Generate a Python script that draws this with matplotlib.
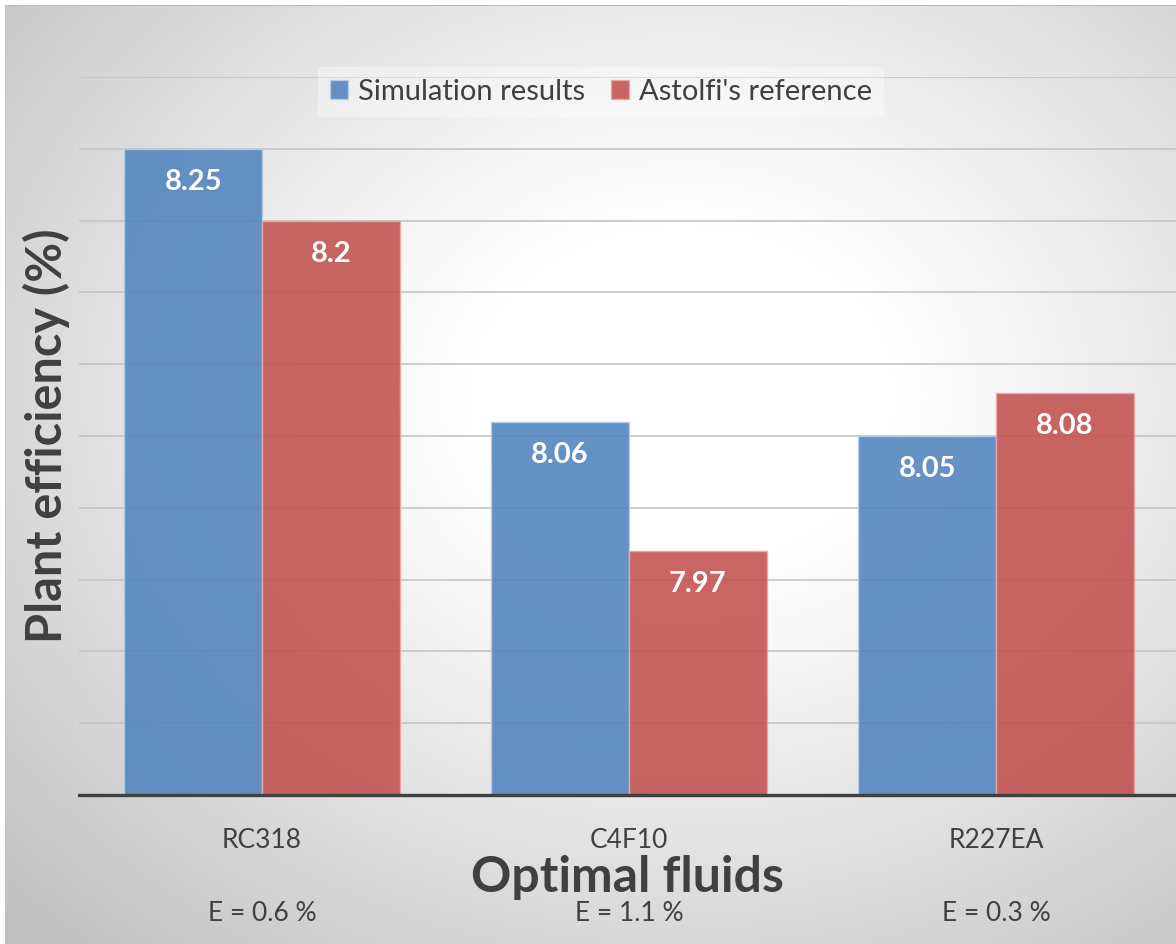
import matplotlib.pyplot as plt
import numpy as np

# data
fluids = ['RC318', 'C4F10', 'R227EA']
errors = ['E = 0.6 %', 'E = 1.1 %', 'E = 0.3 %']
simulation = [8.25, 8.06, 8.05]
astolfi = [8.20, 7.97, 8.08]
series_names = ['Simulation results', "Astolfi's reference"]

plt.rcParams['font.family'] = ['Lato', 'DejaVu Sans']
W, H = 1176, 944
fig = plt.figure(figsize=(W / 100, H / 100), dpi=100)

# radial grey background like the Excel chart area
yy, xx = np.mgrid[0:H, 0:W]
d = np.sqrt(((xx - 0.58 * W) / W) ** 2 + ((yy - 0.42 * H) / H) ** 2)
shade = 1 - 0.25 * np.clip((d - 0.18) / 0.62, 0, 1) ** 1.1
img = np.dstack([shade] * 3)
img[:5, :] = 1
img[:, :5] = 1
img[5, 5:] = 0.72
img[5:, 5] = 0.78
bg = fig.add_axes([0, 0, 1, 1], zorder=-10)
bg.imshow(img, extent=[0, 1, 0, 1], aspect='auto', interpolation='bilinear')
bg.axis('off')

ax = fig.add_axes([78.5 / W, 1 - 795 / H, 1101 / W, (795 - 77) / H])
ax.set_facecolor('none')

x = np.arange(len(fluids))
w = 0.375
b1 = ax.bar(x - w / 2, np.array(simulation) - 7.8, w, bottom=7.8, color='#5083BE',
            alpha=0.88, edgecolor='#b8cde8', linewidth=1, label=series_names[0], zorder=3)
b2 = ax.bar(x + w / 2, np.array(astolfi) - 7.8, w, bottom=7.8, color='#C2514F',
            alpha=0.88, edgecolor='#eba8a6', linewidth=1, label=series_names[1], zorder=3)

for bars, vals in [(b1, simulation), (b2, astolfi)]:
    for bar, v in zip(bars, vals):
        ax.annotate(f'{v:g}', xy=(bar.get_x() + bar.get_width() / 2, v),
                    xytext=(0, -24), textcoords='offset points', ha='center', va='center',
                    fontsize=21, fontweight='bold', color='white', zorder=5)

ax.set_xlim(-0.5, 2.5)
ax.set_ylim(7.8, 8.3)
ax.set_yticks(np.arange(7.8, 8.301, 0.05))
ax.set_yticklabels([])
ax.tick_params(axis='y', length=0)
ax.grid(True, axis='y', color='#c4c4c4', linewidth=1.2, zorder=1)
ax.set_axisbelow(True)
for s in ['left', 'right', 'top']:
    ax.spines[s].set_visible(False)
ax.spines['bottom'].set_color('#404040')
ax.spines['bottom'].set_linewidth(2.4)
ax.spines['bottom'].set_zorder(4)

ax.set_xticks(x)
ax.set_xticklabels(fluids, fontsize=19, color='#404040')
ax.tick_params(axis='x', length=0, pad=24)
for xi, e in zip(x, errors):
    ax.text(xi, -0.165, e, transform=ax.get_xaxis_transform(), ha='center', va='center',
            fontsize=19, color='#404040')

fig.text(627 / W, 1 - 877 / H, 'Optimal fluids', ha='center', va='center',
         fontsize=36, fontweight='bold', color='#404040')
fig.text(46 / W, 1 - 436 / H, 'Plant efficiency (%)', ha='center', va='center',
         rotation=90, fontsize=35, fontweight='bold', color='#404040')

leg = ax.legend(loc='center', bbox_to_anchor=(601 / W, 1 - 92 / H),
                bbox_transform=fig.transFigure, ncol=2, fontsize=21, frameon=True,
                handlelength=0.6, handleheight=0.6, handletextpad=0.35,
                columnspacing=0.9, borderpad=0.4, borderaxespad=0, fancybox=False)
leg.get_frame().set_facecolor('white')
leg.get_frame().set_alpha(0.35)
leg.get_frame().set_linewidth(0)
for t in leg.get_texts():
    t.set_color('#404040')

fig.savefig('out.png', dpi=100)
